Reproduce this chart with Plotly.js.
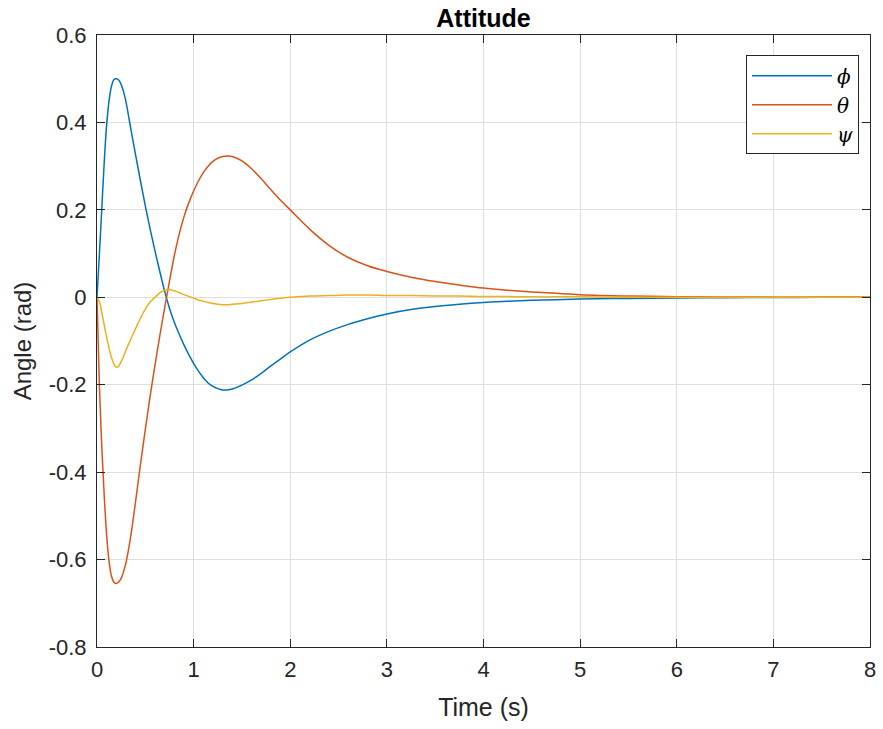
<!DOCTYPE html>
<html>
<head>
<meta charset="utf-8">
<script src="https://cdn.plot.ly/plotly-3.0.1.min.js"></script>
<style>html,body{margin:0;padding:0;background:#fff;}#chart{width:883px;height:729px;}</style>
</head>
<body>
<div id="chart"></div>
<script>
const time = [0, 0.025, 0.05, 0.075, 0.1, 0.125, 0.15, 0.175, 0.2, 0.225, 0.25, 0.275, 0.3,
  0.35, 0.4, 0.45, 0.5, 0.55, 0.6, 0.65, 0.7, 0.75, 0.8, 0.85, 0.9, 0.95, 1.0, 1.05, 1.1, 1.15, 1.2, 1.25, 1.3, 1.35, 1.4,
  1.5, 1.6, 1.7, 1.8, 1.9, 2.0,
  2.2, 2.4, 2.6, 2.8, 3.0,
  3.25, 3.5, 3.75, 4.0, 4.25, 4.5, 4.75, 5.0,
  5.5, 6.0, 6.5, 7.0, 7.5, 8.0];

const phi = [0, 0.1, 0.205, 0.31, 0.395, 0.45, 0.483, 0.498, 0.5, 0.497, 0.487, 0.47, 0.447,
  0.385, 0.325, 0.266, 0.209, 0.156, 0.106, 0.059, 0.014, -0.025, -0.057, -0.084, -0.109, -0.131, -0.151, -0.169, -0.184, -0.196, -0.204, -0.209, -0.212, -0.212, -0.21,
  -0.201, -0.189, -0.174, -0.157, -0.141, -0.125,
  -0.098, -0.078, -0.062, -0.049, -0.038,
  -0.028, -0.021, -0.016, -0.012, -0.009, -0.007, -0.0055, -0.004,
  -0.0025, -0.0015, -0.001, -0.0005, -0.0002, 0];

const theta = [0, -0.205, -0.345, -0.455, -0.545, -0.605, -0.638, -0.652, -0.655, -0.651, -0.643, -0.628, -0.607,
  -0.545, -0.466, -0.382, -0.302, -0.226, -0.155, -0.088, -0.024, 0.037, 0.095, 0.144, 0.184, 0.216, 0.243, 0.266, 0.285, 0.3, 0.311, 0.318, 0.322, 0.323, 0.322,
  0.312, 0.294, 0.271, 0.246, 0.222, 0.2,
  0.156, 0.119, 0.091, 0.072, 0.059,
  0.046, 0.036, 0.028, 0.021, 0.016, 0.012, 0.009, 0.006,
  0.003, 0.0015, 0.0007, 0.0003, 0.0001, 0];

const psi = [0, -0.01, -0.035, -0.064, -0.091, -0.117, -0.138, -0.153, -0.16, -0.157, -0.147, -0.135, -0.121,
  -0.096, -0.071, -0.048, -0.027, -0.011, 0.0, 0.01, 0.016, 0.017, 0.015, 0.011, 0.006, 0.002, -0.002, -0.006, -0.009, -0.012, -0.014, -0.016, -0.017, -0.017, -0.016,
  -0.014, -0.011, -0.008, -0.005, -0.002, 0.0,
  0.003, 0.004, 0.005, 0.005, 0.004,
  0.004, 0.003, 0.003, 0.002, 0.002, 0.001, 0.001, 0.001,
  0, 0, 0, 0, 0, 0];

const seriesNames = ['ϕ', 'θ', 'ψ'];
const seriesColors = ['#0072BD', '#D95319', '#EDB120'];

const xTickVals = [0, 1, 2, 3, 4, 5, 6, 7, 8];
const xTickText = ['0', '1', '2', '3', '4', '5', '6', '7', '8'];
const yTickVals = [0.6, 0.4, 0.2, 0, -0.2, -0.4, -0.6, -0.8];
const yTickText = ['0.6', '0.4', '0.2', '0', '-0.2', '-0.4', '-0.6', '-0.8'];

const ys = [phi, theta, psi];
const traces = ys.map((y, i) => ({
  x: time, y: y, type: 'scatter', mode: 'lines',
  name: '<i>' + seriesNames[i] + '</i>',
  line: {color: seriesColors[i], width: 1.5, shape: 'spline', smoothing: 1}
}));

const FONT = 'Liberation Sans, Arial, sans-serif';
const axisCommon = {
  showline: true, mirror: 'ticks', linecolor: '#262626', linewidth: 1,
  ticks: 'inside', ticklen: 8, tickcolor: '#262626', tickwidth: 1,
  showgrid: true, gridcolor: '#dfdfdf', gridwidth: 1, zeroline: false,
  tickfont: {family: FONT, size: 22, color: '#262626'}
};

const layout = {
  width: 883, height: 729,
  paper_bgcolor: '#ffffff', plot_bgcolor: '#ffffff',
  margin: {l: 97, r: 13, t: 35, b: 82},
  showlegend: true,
  title: {text: '<b>Attitude</b>', xref: 'paper', x: 0.5, xanchor: 'center', yref: 'container', y: 0.975, yanchor: 'middle',
    font: {family: FONT, size: 25, color: '#000000'}},
  xaxis: Object.assign({}, axisCommon, {
    range: [0, 8], tickvals: xTickVals, ticktext: xTickText, ticklabelstandoff: 3,
    title: {text: 'Time (s)', standoff: 17, font: {family: FONT, size: 25, color: '#262626'}}
  }),
  yaxis: Object.assign({}, axisCommon, {
    range: [-0.8, 0.6], tickvals: yTickVals, ticktext: yTickText, ticklabelstandoff: 5,
    title: {text: 'Angle (rad)', standoff: 10, font: {family: FONT, size: 24, color: '#262626'}}
  }),
  legend: {
    x: 0.8396, y: 0.967, xanchor: 'left', yanchor: 'top',
    bgcolor: '#ffffff', bordercolor: '#262626', borderwidth: 1,
    font: {family: 'DejaVu Serif, serif', size: 20, color: '#000000'},
    itemwidth: 80
  }
};

Plotly.newPlot('chart', traces, layout, {displayModeBar: false, staticPlot: true});
</script>
</body>
</html>
